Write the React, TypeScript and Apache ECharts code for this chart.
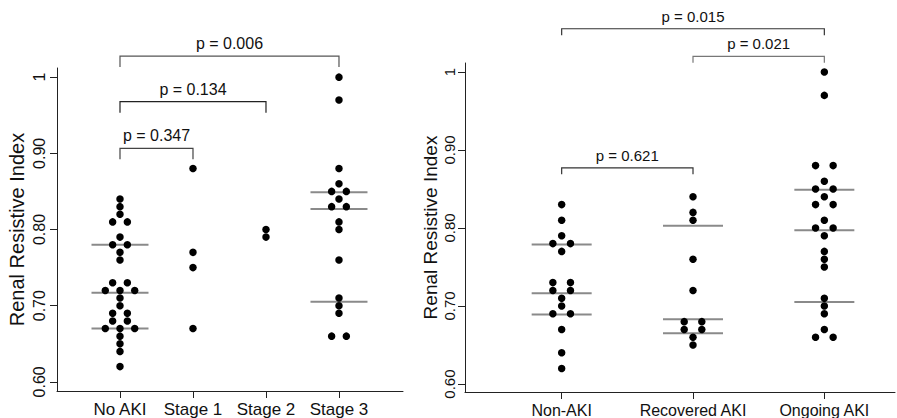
import React, { useEffect, useRef } from "react";
import * as echarts from "echarts";

// ---------- Data ----------
const leftCategories = ["No AKI", "Stage 1", "Stage 2", "Stage 3"];
const rightCategories = ["Non-AKI", "Recovered AKI", "Ongoing AKI"];

const noAki = [0.84, 0.83, 0.82, 0.81, 0.81, 0.79, 0.78, 0.78, 0.77, 0.76, 0.73, 0.73, 0.72, 0.72, 0.72, 0.71, 0.70, 0.69, 0.69, 0.68, 0.68, 0.67, 0.67, 0.67, 0.66, 0.65, 0.64, 0.62];
const stage1 = [0.88, 0.77, 0.75, 0.67];
const stage2 = [0.80, 0.79];
const stage3 = [1.0, 0.97, 0.88, 0.86, 0.85, 0.85, 0.84, 0.83, 0.83, 0.81, 0.80, 0.76, 0.71, 0.70, 0.69, 0.66, 0.66];

const nonAki = [0.83, 0.81, 0.79, 0.78, 0.78, 0.77, 0.73, 0.73, 0.72, 0.72, 0.71, 0.70, 0.69, 0.69, 0.67, 0.64, 0.62];
const recoveredAki = [0.84, 0.82, 0.81, 0.76, 0.72, 0.68, 0.68, 0.67, 0.67, 0.66, 0.65];
const ongoingAki = [1.0, 0.97, 0.88, 0.88, 0.86, 0.85, 0.85, 0.84, 0.83, 0.83, 0.81, 0.80, 0.80, 0.79, 0.77, 0.76, 0.75, 0.71, 0.70, 0.69, 0.67, 0.66, 0.66];

// summary lines (quartiles / median)
const noAkiLines = [0.67, 0.717, 0.78];
const stage3Lines = [0.705, 0.827, 0.849];
const nonAkiLines = [0.689, 0.7165, 0.779];
const recoveredLines = [0.665, 0.683, 0.803];
const ongoingLines = [0.705, 0.797, 0.849];

const yTicks = [0.6, 0.7, 0.8, 0.9, 1.0];

// comparison brackets
const leftPLabels = ["p = 0.347", "p = 0.134", "p = 0.006"];
const leftPFrom = [1, 1, 1];
const leftPTo = [2, 3, 4];
const leftPLevel = [0.9066, 0.9678, 1.0276];

const rightPLabels = ["p = 0.621", "p = 0.021", "p = 0.015"];
const rightPFrom = [1, 2, 1];
const rightPTo = [2, 3, 3];
const rightPLevel = [0.8772, 1.02, 1.0554];

// ---------- Helpers ----------
const FONT = "'Liberation Sans', Arial, Helvetica, sans-serif";

function swarm(values: number[], xi: number, step: number) {
  const seen: Record<string, number> = {};
  return values.map((v) => {
    const key = v.toFixed(3);
    const n = values.filter((w) => w.toFixed(3) === key).length;
    const k = seen[key] || 0;
    seen[key] = k + 1;
    return { value: [xi, v], symbolOffset: [(k - (n - 1) / 2) * step, 0] };
  });
}

function linesData(groups: [number, number[]][]) {
  const out: number[][] = [];
  groups.forEach(([xi, arr]) => arr.forEach((v) => out.push([xi, v])));
  return out;
}

function yFmt(v: number) {
  return Math.abs(v - 1) < 1e-9 ? "1" : v.toFixed(2);
}

export default function App() {
  const ref = useRef<HTMLDivElement>(null);

  useEffect(() => {
    if (!ref.current) return;
    const chart = echarts.init(ref.current, undefined, { renderer: "svg" });

    const axisLineStyle = { color: "#222", width: 1 };

    const makeX = (grid: number, min: number, max: number, cats: string[], fs: number) => {
      const vals = cats.map((_, i) => i + 1);
      return {
        gridIndex: grid,
        type: "value",
        min,
        max,
        axisLine: { show: true, onZero: false, lineStyle: axisLineStyle },
        axisTick: { show: true, customValues: vals, length: 7, lineStyle: axisLineStyle },
        axisLabel: {
          customValues: vals,
          formatter: (v: number) => cats[Math.round(v) - 1] || "",
          fontSize: fs,
          color: "#111",
          fontFamily: FONT,
          margin: 10,
        },
        splitLine: { show: false },
      };
    };

    const makeY = (grid: number, min: number, max: number, fs: number, nameFs: number, nameGap: number, margin: number) => ({
      gridIndex: grid,
      type: "value",
      min,
      max,
      name: "Renal Resistive Index",
      nameLocation: "middle",
      nameGap,
      nameRotate: 90,
      nameTextStyle: { fontSize: nameFs, color: "#111", fontFamily: FONT },
      axisLine: { show: true, onZero: false, lineStyle: axisLineStyle },
      axisTick: { show: true, customValues: yTicks, length: 7, lineStyle: axisLineStyle },
      axisLabel: {
        customValues: yTicks,
        formatter: yFmt,
        rotate: 90,
        fontSize: fs,
        color: "#111",
        fontFamily: FONT,
        margin,
      },
      splitLine: { show: false },
    });

    const medianSeries = (grid: number, data: number[][], half: number) => ({
      type: "custom",
      xAxisIndex: grid,
      yAxisIndex: grid,
      z: 1,
      silent: true,
      clip: false,
      data,
      encode: { x: 0, y: 1 },
      renderItem: (params: any, api: any) => {
        const p = api.coord([api.value(0), api.value(1)]);
        return {
          type: "line",
          shape: { x1: p[0] - half, y1: p[1], x2: p[0] + half, y2: p[1] },
          style: { stroke: "#8a8a8a", lineWidth: 2 },
        };
      },
    });

    const bracketSeries = (grid: number, from: number[], to: number[], level: number[], labels: string[], tick: number, fs: number, colors: string[]) => ({
      type: "custom",
      xAxisIndex: grid,
      yAxisIndex: grid,
      z: 3,
      silent: true,
      clip: false,
      data: from.map((f, i) => [f, to[i], level[i]]),
      encode: { x: [0, 1], y: 2 },
      renderItem: (params: any, api: any) => {
        const a = api.coord([api.value(0), api.value(2)]);
        const b = api.coord([api.value(1), api.value(2)]);
        const i = params.dataIndex;
        return {
          type: "group",
          children: [
            {
              type: "polyline",
              shape: {
                points: [
                  [a[0], a[1] + tick],
                  [a[0], a[1]],
                  [b[0], b[1]],
                  [b[0], b[1] + tick],
                ],
              },
              style: { stroke: colors[i], lineWidth: 1.2, fill: null },
            },
            {
              type: "text",
              style: {
                text: labels[i],
                x: (a[0] + b[0]) / 2,
                y: a[1] - 12.5,
                align: "center",
                verticalAlign: "middle",
                fontSize: fs,
                fontFamily: FONT,
                fill: "#111",
              },
            },
          ],
        };
      },
    });

    const dots = (grid: number, data: any[]) => ({
      type: "scatter",
      xAxisIndex: grid,
      yAxisIndex: grid,
      symbol: "circle",
      symbolSize: 7.5,
      z: 2,
      itemStyle: { color: "#000", opacity: 1 },
      silent: true,
      data,
    });

    const option: any = {
      animation: false,
      backgroundColor: "#fff",
      grid: [
        { left: 57, top: 68, width: 346, height: 325 },
        { left: 465, top: 63, width: 430, height: 330 },
      ],
      xAxis: [
        makeX(0, 0.137, 4.877, leftCategories, 17),
        makeX(1, 0.264, 3.538, rightCategories, 16),
      ],
      yAxis: [
        makeY(0, 0.588, 1.012, 16, 20, 30, 10),
        makeY(1, 0.5898, 1.0115, 15, 19, 25, 8),
      ],
      series: [
        dots(0, [
          ...swarm(noAki, 1, 14.7),
          ...swarm(stage1, 2, 14.7),
          ...swarm(stage2, 3, 14.7),
          ...swarm(stage3, 4, 14.7),
        ]),
        dots(1, [
          ...swarm(nonAki, 1, 17.6),
          ...swarm(recoveredAki, 2, 17.6),
          ...swarm(ongoingAki, 3, 17.6),
        ]),
        medianSeries(0, linesData([[1, noAkiLines], [4, stage3Lines]]), 28.5),
        medianSeries(1, linesData([[1, nonAkiLines], [2, recoveredLines], [3, ongoingLines]]), 30),
        bracketSeries(0, leftPFrom, leftPTo, leftPLevel, leftPLabels, 11, 16, ["#444", "#222", "#555"]),
        bracketSeries(1, rightPFrom, rightPTo, rightPLevel, rightPLabels, 6.5, 15, ["#333", "#777", "#333"]),
      ],
    };

    chart.setOption(option);
    return () => chart.dispose();
  }, []);

  return (
    <div
      ref={ref}
      style={{ width: 897, height: 418, position: "fixed", left: 0, top: 0, background: "#fff" }}
    />
  );
}
